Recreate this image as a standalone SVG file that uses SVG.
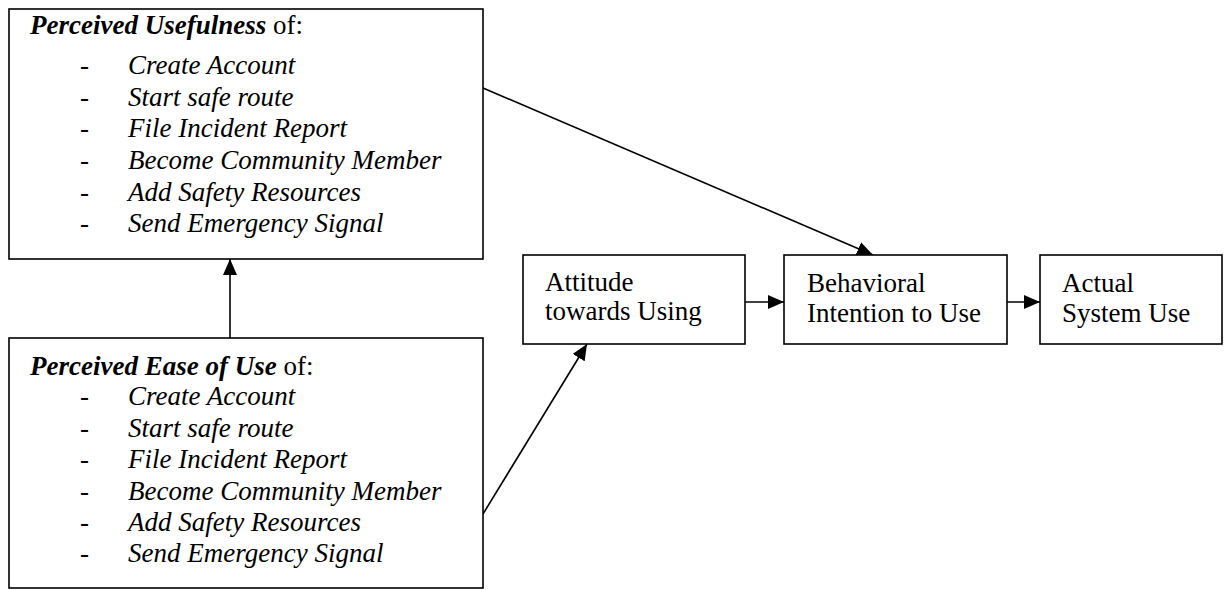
<svg xmlns="http://www.w3.org/2000/svg" width="1231" height="590" viewBox="0 0 1231 590">
<style>
.box{fill:#fff;stroke:#000;stroke-width:1.6}
.t{font-family:"Liberation Serif","Times New Roman",serif;font-size:27px;fill:#000}
.bi{font-weight:bold;font-style:italic}
.it{font-style:italic}
.conn{stroke:#000;stroke-width:1.6;fill:none}
</style>
<defs>
<marker id="ah" markerUnits="userSpaceOnUse" markerWidth="16" markerHeight="14" refX="16" refY="7" orient="auto">
<path d="M0,0 L16,7 L0,14 Z" fill="#000"/>
</marker>
</defs>
<rect width="1231" height="590" fill="#fff"/>
<g id="connectors">
<line class="conn" x1="230" y1="338" x2="230" y2="259" marker-end="url(#ah)"/>
<line class="conn" x1="483" y1="88" x2="873" y2="255" marker-end="url(#ah)"/>
<line class="conn" x1="483" y1="514" x2="587" y2="344" marker-end="url(#ah)"/>
<line class="conn" x1="745" y1="302" x2="784" y2="302" marker-end="url(#ah)"/>
<line class="conn" x1="1007" y1="302" x2="1040" y2="302" marker-end="url(#ah)"/>
</g>
<g id="pu">
<rect class="box" x="9" y="9" width="474" height="250"/>
<text class="t" x="30" y="34"><tspan class="bi">Perceived Usefulness</tspan> of:</text>
<text class="t" x="80" y="74">-</text><text class="t it" x="128" y="74">Create Account</text>
<text class="t" x="80" y="106">-</text><text class="t it" x="128" y="106">Start safe route</text>
<text class="t" x="80" y="137">-</text><text class="t it" x="128" y="137">File Incident Report</text>
<text class="t" x="80" y="169">-</text><text class="t it" x="128" y="169">Become Community Member</text>
<text class="t" x="80" y="201">-</text><text class="t it" x="128" y="201">Add Safety Resources</text>
<text class="t" x="80" y="232">-</text><text class="t it" x="128" y="232">Send Emergency Signal</text>
</g>
<g id="peou">
<rect class="box" x="9" y="338" width="474" height="250"/>
<text class="t" x="30" y="375"><tspan class="bi">Perceived Ease of Use</tspan> of:</text>
<text class="t" x="80" y="405">-</text><text class="t it" x="128" y="405">Create Account</text>
<text class="t" x="80" y="437">-</text><text class="t it" x="128" y="437">Start safe route</text>
<text class="t" x="80" y="468">-</text><text class="t it" x="128" y="468">File Incident Report</text>
<text class="t" x="80" y="500">-</text><text class="t it" x="128" y="500">Become Community Member</text>
<text class="t" x="80" y="531">-</text><text class="t it" x="128" y="531">Add Safety Resources</text>
<text class="t" x="80" y="562">-</text><text class="t it" x="128" y="562">Send Emergency Signal</text>
</g>
<g id="attitude">
<rect class="box" x="523" y="255" width="222" height="89"/>
<text class="t" x="545" y="291">Attitude</text>
<text class="t" x="545" y="320">towards Using</text>
</g>
<g id="intention">
<rect class="box" x="784" y="255" width="223" height="89"/>
<text class="t" x="807" y="292">Behavioral</text>
<text class="t" x="807" y="322">Intention to Use</text>
</g>
<g id="actual">
<rect class="box" x="1040" y="255" width="182" height="89"/>
<text class="t" x="1062" y="292">Actual</text>
<text class="t" x="1062" y="322">System Use</text>
</g>
</svg>
